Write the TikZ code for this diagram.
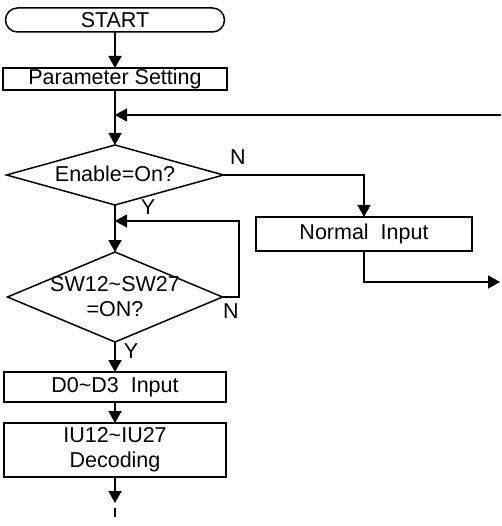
\documentclass[tikz,border=0pt]{standalone}
\usepackage{fontspec}
\setmainfont{Liberation Sans}
\usetikzlibrary{arrows.meta,shapes.geometric,shapes.misc}
\begin{document}
\begin{tikzpicture}[x=1pt,y=-1pt,
  every node/.style={font=\fontsize{21.5}{25}\selectfont, outer sep=0pt},
  box/.style={draw, line width=1.5pt, rectangle, inner sep=0pt, align=center},
  dia/.style={draw, line width=1.5pt, diamond, inner sep=0pt},
  term/.style={draw, line width=1.5pt, rounded rectangle, inner sep=0pt},
  conn/.style={line width=1.7pt},
  arr/.style={conn, -{Triangle[length=12pt,width=13pt]}},
  lbl/.style={inner sep=0pt, align=center}]
\useasboundingbox (0,0) rectangle (501,526);
% nodes
\node[term, minimum width=219pt, minimum height=24pt] (start) at (115,20) {START};
\node[box, minimum width=224pt, minimum height=22pt] (param) at (115,79) {Parameter Setting};
\coordinate (j1) at (115,115);
\coordinate (fbR) at (501,115);
\node[dia, minimum width=217pt, minimum height=60pt] (d1) at (115,175) {};
\node[lbl] (t1) at (115,174) {Enable=On?};
\node[box, minimum width=216pt, minimum height=34pt] (normal) at (364,234) {Normal\ \ Input};
\coordinate (outR) at (500,282);
\coordinate (j2) at (115,221);
\coordinate (nR) at (239,297);
\node[dia, minimum width=215pt, minimum height=90pt] (d2) at (115,297) {};
\node[lbl] (t2) at (115,297) {SW12\textasciitilde SW27\\=ON?};
\node[box, minimum width=222pt, minimum height=30pt] (d0) at (115,387) {D0\textasciitilde D3\ \ Input};
\node[box, minimum width=222pt, minimum height=54pt] (iu) at (115,450) {IU12\textasciitilde IU27\\Decoding};
\coordinate (endA) at (115,503);
\coordinate (endB) at (115,508);
\coordinate (endC) at (115,517);
% labels
\node[lbl] (n1) at (238,157) {N};
\node[lbl] (y1) at (148,207) {Y};
\node[lbl] (n2) at (231,311) {N};
\node[lbl] (y2) at (131,351) {Y};
% connectors
\draw[arr] (start) -- (param);
\draw[conn] (param) -- (j1);
\draw[arr] (j1) -- (d1.north);
\draw[arr] (fbR) -- (j1);
\draw[arr] (d1.east) -| (normal.north);
\draw[arr] (normal.south) |- (outR);
\draw[conn] (d1.south) -- (j2);
\draw[arr] (j2) -- (d2.north);
\draw[arr] (d2.east) -- (nR) |- (j2);
\draw[arr] (d2.south) -- (d0.north);
\draw[arr] (d0) -- (iu);
\draw[arr] (iu.south) -- (endA);
\draw[conn] (endB) -- (endC);
\end{tikzpicture}
\end{document}
